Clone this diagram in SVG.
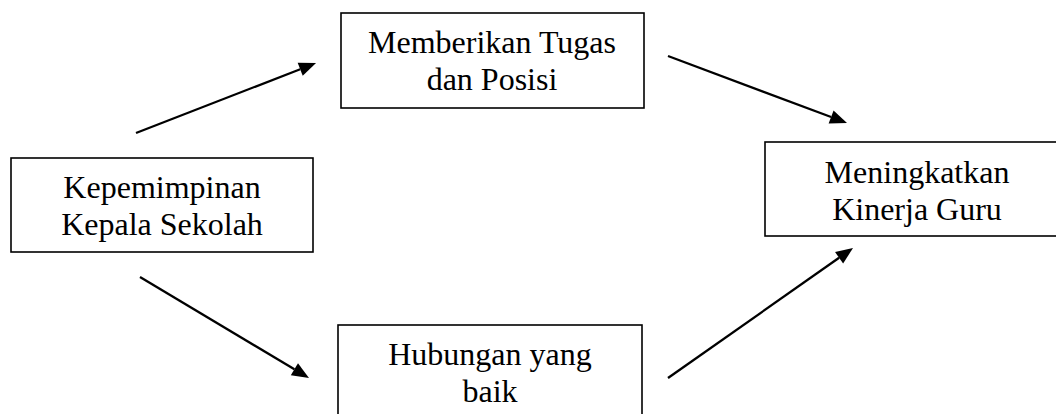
<svg xmlns="http://www.w3.org/2000/svg" width="1056" height="414" viewBox="0 0 1056 414">
<style>
.box{fill:#ffffff;stroke:#000000;stroke-width:1.6}
.lbl{font-family:"Liberation Serif","Times New Roman",serif;font-size:32px;fill:#000000;text-anchor:middle}
.conn{stroke:#000000;stroke-width:2.3;fill:none;marker-end:url(#ah)}
</style>
<defs>
<marker id="ah" markerUnits="userSpaceOnUse" markerWidth="18" markerHeight="15" refX="0" refY="7" orient="auto" overflow="visible">
<path d="M0,0 L17,7 L0,14 Z" fill="#000000"/>
</marker>
</defs>
<rect width="1056" height="414" fill="#ffffff"/>
<g id="n-memberikan">
<rect class="box" x="341" y="13" width="303" height="95"/>
<text class="lbl" x="492" y="53">Memberikan Tugas</text>
<text class="lbl" x="492" y="90">dan Posisi</text>
</g>
<g id="n-kepemimpinan">
<rect class="box" x="11" y="158" width="302" height="94"/>
<text class="lbl" x="162" y="198">Kepemimpinan</text>
<text class="lbl" x="162" y="235">Kepala Sekolah</text>
</g>
<g id="n-meningkatkan">
<rect class="box" x="765" y="142" width="304" height="94"/>
<text class="lbl" x="917" y="183">Meningkatkan</text>
<text class="lbl" x="917" y="220">Kinerja Guru</text>
</g>
<g id="n-hubungan">
<rect class="box" x="338" y="325" width="304" height="95"/>
<text class="lbl" x="490" y="365">Hubungan yang</text>
<text class="lbl" x="490" y="402">baik</text>
</g>
<g id="connectors">
<line class="conn" x1="136" y1="133" x2="300.2" y2="69.2"/>
<line class="conn" x1="668" y1="56" x2="831.1" y2="117"/>
<line class="conn" x1="140" y1="277" x2="294.4" y2="369.3"/>
<line class="conn" x1="668" y1="378" x2="839.1" y2="257.8"/>
</g>
</svg>
